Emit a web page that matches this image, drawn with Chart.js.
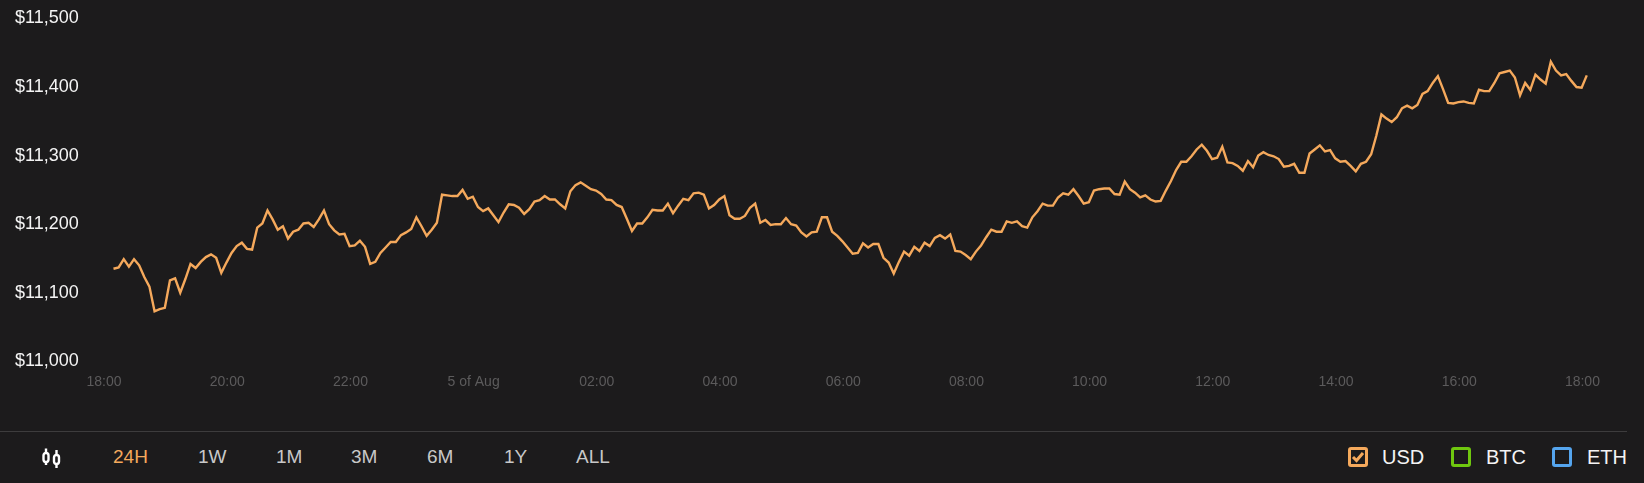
<!DOCTYPE html>
<html>
<head>
<meta charset="utf-8">
<title>Price chart</title>
<script src="https://cdn.jsdelivr.net/npm/chart.js@4/dist/chart.umd.min.js"></script>
<style>
	html, body { margin: 0; padding: 0; background: #1c1b1c; overflow: hidden; }
	body { width: 1644px; height: 483px; position: relative; font-family: "Liberation Sans", Arial, sans-serif; }
	#wrap { position: absolute; left: 0; top: 0; width: 1644px; height: 431px; }
	#rule { position: absolute; left: 0; top: 431px; width: 1627px; height: 1px; background: #3d3c3d; }
	.btn, .leg { position: absolute; top: 446px; line-height: 22px; }
	.btn { color: #c8c8c8; font-size: 19px; }
	.btn.on { color: #f5a95c; }
	.leg { color: #f4f4f4; font-size: 20px; }
	.box { position: absolute; top: 447px; width: 14px; height: 14px; border: 3px solid; border-radius: 3px; }
	svg { position: absolute; }
</style>
</head>
<body>
<div id="wrap"><canvas id="chart"></canvas></div>
<div id="rule"></div>

<svg style="left:41px;top:447px" width="22" height="22" viewBox="0 0 22 22" fill="none" stroke="#fff" stroke-width="2.4">
	<rect x="2.5" y="6" width="5" height="9" rx="2.4"/>
	<path d="M5 1.5V6M5 15v3"/>
	<rect x="13" y="8" width="5" height="9" rx="2.4"/>
	<path d="M15.5 3v5M15.5 17v4"/>
</svg>

<span class="btn on" style="left:113px">24H</span>
<span class="btn" style="left:198px">1W</span>
<span class="btn" style="left:276px">1M</span>
<span class="btn" style="left:351px">3M</span>
<span class="btn" style="left:427px">6M</span>
<span class="btn" style="left:504px">1Y</span>
<span class="btn" style="left:576px">ALL</span>

<div class="box" style="left:1348px;border-color:#f5a95c"></div>
<svg style="left:1351px;top:450px" width="14" height="14" viewBox="0 0 14 14" fill="none" stroke="#f5a95c" stroke-width="3">
	<path d="M2 7l3.5 3.5L12 3"/>
</svg>
<span class="leg" style="left:1382px">USD</span>
<div class="box" style="left:1451px;border-color:#6fc70f"></div>
<span class="leg" style="left:1486px">BTC</span>
<div class="box" style="left:1552px;border-color:#55a5ee"></div>
<span class="leg" style="left:1587px">ETH</span>

<script>
var xTickLabels = ['18:00','20:00','22:00','5 of Aug','02:00','04:00','06:00','08:00','10:00','12:00','14:00','16:00','18:00'];
var yTickLabels = ['$11,000','$11,100','$11,200','$11,300','$11,400','$11,500'];

// one reading every 5 minutes, first one just after 18:09
var firstMinute = 9.25;
var stepMinutes = 5;

var usdPrices = [
	11135,11137,11149,11138,11149,11140,11123,11109,11073,11076,11078,11118,11121,11100,11120,11142,11136,11145,11152,11156,11151,
	11129,11144,11158,11168,11173,11164,11163,11195,11201,11220,11207,11192,11197,11179,11189,11192,11201,11202,11196,11207,
	11220,11200,11191,11185,11186,11168,11169,11176,11167,11142,11145,11158,11166,11174,11174,11184,11188,11193,11210,11197,
	11183,11192,11202,11243,11242,11241,11241,11250,11237,11240,11225,11219,11223,11213,11203,11217,11229,11228,11224,11215,11222,
	11233,11235,11241,11236,11236,11229,11223,11248,11257,11261,11256,11251,11249,11244,11236,11235,11228,11225,11208,11190,
	11201,11201,11210,11221,11220,11220,11230,11216,11227,11237,11235,11245,11246,11243,11223,11228,11236,11241,11213,11208,11208,
	11212,11224,11230,11202,11206,11199,11200,11200,11209,11200,11198,11188,11182,11188,11189,11210,11210,11189,11183,11175,
	11166,11157,11158,11172,11166,11171,11171,11151,11144,11128,11145,11160,11154,11167,11161,11173,11168,11180,11184,11179,11185,
	11161,11160,11155,11149,11160,11169,11181,11192,11189,11189,11204,11202,11204,11197,11195,11210,11219,11230,11227,11227,
	11239,11245,11243,11251,11241,11230,11232,11249,11251,11252,11252,11244,11243,11262,11251,11246,11239,11242,11236,11233,11234,
	11249,11263,11279,11291,11291,11299,11309,11316,11307,11295,11297,11313,11290,11289,11285,11278,11292,11283,11300,11305,
	11301,11299,11295,11284,11285,11288,11275,11275,11303,11309,11315,11306,11308,11296,11291,11292,11285,11277,11288,11291,11302,
	11329,11360,11354,11349,11356,11369,11373,11369,11374,11390,11394,11406,11416,11397,11377,11376,11378,11379,11377,11376,
	11396,11394,11394,11406,11420,11422,11424,11414,11388,11406,11396,11418,11411,11405,11437,11424,11417,11419,11409,11400,11399,11417
];

function buildPoints(){
	var points = [];
	for(var i = 0; i < usdPrices.length; i++){
		points.push({ x: firstMinute + i * stepMinutes, y: usdPrices[i] });
	}
	return points;
}

document.getElementById('chart').width = 1644;
document.getElementById('chart').height = 431;

var ctx = document.getElementById('chart').getContext('2d');

new Chart(ctx, {
	type: 'line',
	data: {
		datasets: [
			{
				label: 'USD',
				data: buildPoints(),
				borderColor: '#f5a95c',
				borderWidth: 2.4,
				pointRadius: 0,
				tension: 0,
				fill: false
			}
		]
	},
	options: {
		responsive: false,
		animation: false,
		layout: {
			padding: { top: 18.5, left: 15, right: 0, bottom: 0 }
		},
		plugins: {
			legend: { display: false },
			tooltip: { enabled: false }
		},
		scales: {
			x: {
				type: 'linear',
				min: 0,
				max: 1500,
				grid: { display: false },
				border: { display: false },
				afterFit: function(scale){
					scale.height = 69.7;
				},
				afterBuildTicks: function(scale){
					scale.ticks = xTickLabels.map(function(label, i){
						return { value: i * 120 };
					});
				},
				ticks: {
					autoSkip: false,
					maxRotation: 0,
					padding: 4,
					color: '#5c5b5c',
					font: { family: '"Liberation Sans", Arial, sans-serif', size: 14 },
					callback: function(value){
						return xTickLabels[value / 120];
					}
				}
			},
			y: {
				min: 11000,
				max: 11500,
				grid: { display: false },
				border: { display: false },
				afterFit: function(scale){
					scale.width = 89;
				},
				afterBuildTicks: function(scale){
					scale.ticks = yTickLabels.map(function(label, i){
						return { value: 11000 + i * 100 };
					});
				},
				ticks: {
					autoSkip: false,
					crossAlign: 'far',
					padding: 0,
					color: '#f4f4f4',
					font: { family: '"Liberation Sans", Arial, sans-serif', size: 18 },
					callback: function(value){
						return yTickLabels[(value - 11000) / 100];
					}
				}
			}
		}
	}
});
</script>
</body>
</html>
